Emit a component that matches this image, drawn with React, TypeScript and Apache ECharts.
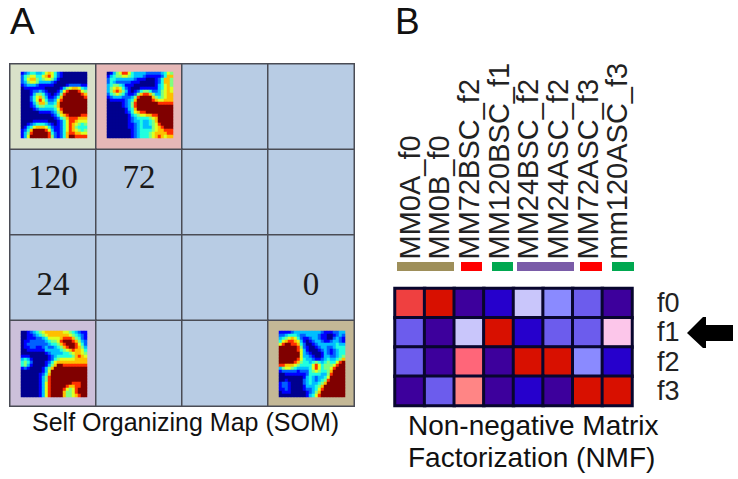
import React, { useEffect, useRef } from "react";
import * as echarts from "echarts";

const SANS = '"Liberation Sans", Arial, sans-serif';
const SERIF = '"Liberation Serif", "Times New Roman", serif';

// SOM lattice
const somAxis = ["0", "1", "2", "3"];
const somPalette = ["#b8cce4", "#d9e1c9", "#e6b8b7", "#ccc0da", "#c4b896"];
const somTints = [
  [1, 2, 0, 0],
  [0, 0, 0, 0],
  [0, 0, 0, 0],
  [3, 0, 0, 4],
];
const somLabels: [number, number, string][] = [
  [0, 1, "120"],
  [1, 1, "72"],
  [0, 2, "24"],
  [3, 2, "0"],
];

// SOM component planes: one digit per cell, 0 (dark blue) .. 9 (dark red)
const jet = ["#00008f", "#0000ff", "#0060ff", "#00bfff", "#20ffdf", "#7fff7f", "#dfff20", "#ffbf00", "#ff3000", "#800000"];

const plane120 = [
  "1234433467642100000000",
  "2456644678642100000000",
  "2467754566531000000000",
  "2356653333210000000000",
  "1233321111100001222211",
  "0111111100000135677643",
  "0001223210001368999865",
  "0001355421012589999987",
  "0002467531124799999998",
  "0002468642236899999999",
  "0001357753347999999999",
  "0001245544457999999999",
  "0000123333346899999999",
  "0000001111235799999999",
  "0000000000124678999988",
  "0000000000012457888777",
  "0000111110001246887666",
  "0012344432101246876545",
  "0134677764211246875444",
  "1247999986311246876545",
  "1358999998421247887766",
  "1369999998521247998888",
];
const plane72 = [
  "0135688643333222223465",
  "1345566543332111112477",
  "2443333332111000124775",
  "2432222211100000124775",
  "3455431110000000134675",
  "3567642100011111134676",
  "3578753101245542235676",
  "2456542112578875335677",
  "1233322235899997545677",
  "0111112347999998766777",
  "0000012358999999988888",
  "0000012358999999999999",
  "0000001347999999999999",
  "0000001246788999999999",
  "0000000134566778899999",
  "0000000123444456799999",
  "0000000123343345799999",
  "0000000112343345689999",
  "0000000112343335678999",
  "0000000012344445677888",
  "0000000012344456777788",
  "0000000012344456787677",
];
const plane24 = [
  "0012345677777766543211",
  "0011234567777777654321",
  "0011122346666788875421",
  "0112222234556899987532",
  "0122222223445789998642",
  "0112211232234578998753",
  "0011111133333456787764",
  "0000000012333344567765",
  "1110000001234444457876",
  "3431000001245666667777",
  "4542000012467777777777",
  "4531000013579988888888",
  "1210000135799999999999",
  "0000000136999999999999",
  "0000001247999999999999",
  "0000001358999999999999",
  "0000001358999999999999",
  "0000001368999999988899",
  "0000001368999998778899",
  "0000001368999986568999",
  "0000001368999975568999",
  "0000001368999975567899",
];
const plane0 = [
  "1111233333333321112233",
  "2234443223333211001232",
  "3456764211233211002321",
  "4678876310123321123321",
  "6899887420012333333433",
  "9999998521001233223444",
  "9999998631000123212344",
  "9999999632100013212344",
  "9999999633210013322345",
  "9999998643321123433457",
  "9999987544345434544689",
  "8877765444468645556899",
  "3566543333468645568999",
  "1222221222456544579999",
  "0011111112444433589999",
  "0000000013432334699999",
  "0010000023432345899999",
  "1221000023433457999999",
  "1221000013334579999999",
  "1121000012234689999999",
  "0111000001235799999999",
  "0000000001346899999999",
];

// NMF panel
const sampleNames = ["MM0A_f0", "MM0B_f0", "MM72BSC_f2", "MM120BSC_f1", "MM24BSC_f2", "MM24ASC_f2", "MM72ASC_f3", "mm120ASC_f3"];
const factorNames = ["f0", "f1", "f2", "f3"];
const nmfPalette = ["#3d009c", "#2600cc", "#6c5ced", "#8a8aff", "#c9c6fb", "#fcc6ea", "#ff8585", "#ff6679", "#ef4040", "#d81000"];
const nmfF0 = [8, 9, 0, 1, 4, 3, 2, 0];
const nmfF1 = [2, 0, 4, 9, 1, 2, 2, 5];
const nmfF2 = [2, 0, 7, 0, 9, 9, 3, 1];
const nmfF3 = [0, 2, 6, 0, 1, 0, 9, 9];
const nmfRows = [nmfF0, nmfF1, nmfF2, nmfF3];

const conditionBars: [number, number, string][] = [
  [397, 57, "#9e8f5a"],
  [461, 21, "#ff0000"],
  [492, 21, "#00a850"],
  [517, 57, "#7a5ca8"],
  [580, 22, "#ff0000"],
  [612, 22, "#00a850"],
];

const planeIdx = Array.from({ length: 22 }, (_, i) => String(i));

function planeParts(plane: string[], gridIndex: number, left: number, top: number) {
  const data: number[][] = [];
  plane.forEach((row, y) => {
    row.split("").forEach((d, x) => {
      data.push([x, y, Number(d)]);
    });
  });
  return {
    grid: { left, top, width: 66, height: 66 },
    xAxis: { type: "category", gridIndex, data: planeIdx, show: false },
    yAxis: { type: "category", gridIndex, data: planeIdx, show: false, inverse: true },
    series: { type: "heatmap", xAxisIndex: gridIndex, yAxisIndex: gridIndex, data, z: 4, silent: true, itemStyle: { borderWidth: 0 } },
  };
}

function buildOption() {
  const somData: any[] = [];
  somTints.forEach((row, y) => {
    row.forEach((tint, x) => {
      const lab = somLabels.find((t) => t[0] === x && t[1] === y);
      somData.push({
        value: [x, y, tint],
        label: lab
          ? { show: true, formatter: lab[2], fontFamily: SERIF, fontSize: 33, color: "#1a1a1a", offset: [0, y === 1 ? -15 : 6] }
          : { show: false },
      });
    });
  });

  const planes = [
    planeParts(plane120, 1, 21, 72),
    planeParts(plane72, 2, 107, 72),
    planeParts(plane24, 3, 21, 331),
    planeParts(plane0, 4, 279, 331),
  ];

  const nmfData: number[][] = [];
  nmfRows.forEach((row, y) => {
    row.forEach((v, x) => {
      nmfData.push([x, y, v]);
    });
  });

  const text = (x: number, y: number, t: string, fontSize: number) => ({
    type: "text",
    x,
    y,
    style: { text: t, fontFamily: SANS, fontSize, fill: "#111", verticalAlign: "middle" },
  });

  return {
    animation: false,
    backgroundColor: "#ffffff",
    visualMap: [
      { show: false, type: "continuous", seriesIndex: 0, min: 0, max: 4, dimension: 2, inRange: { color: somPalette } },
      { show: false, type: "continuous", seriesIndex: [1, 2, 3, 4], min: 0, max: 9, dimension: 2, inRange: { color: jet } },
      { show: false, type: "continuous", seriesIndex: 5, min: 0, max: 9, dimension: 2, inRange: { color: nmfPalette } },
    ],
    grid: [
      { left: 10, top: 64, width: 344, height: 342 },
      ...planes.map((p) => p.grid),
      { left: 395, top: 288.5, width: 237, height: 117 },
    ],
    xAxis: [
      { type: "category", gridIndex: 0, data: somAxis, show: false },
      ...planes.map((p) => p.xAxis),
      {
        type: "category",
        gridIndex: 5,
        position: "top",
        data: sampleNames,
        axisLine: { show: false },
        axisTick: { show: false },
        splitLine: { show: false },
        axisLabel: { interval: 0, rotate: -90, margin: 29, fontFamily: SANS, fontSize: 29, color: "#222" },
      },
    ],
    yAxis: [
      { type: "category", gridIndex: 0, data: somAxis, show: false, inverse: true },
      ...planes.map((p) => p.yAxis),
      {
        type: "category",
        gridIndex: 5,
        position: "right",
        inverse: true,
        data: factorNames,
        axisLine: { show: false },
        axisTick: { show: false },
        splitLine: { show: false },
        axisLabel: { interval: 0, margin: 25, fontFamily: SANS, fontSize: 27, color: "#222" },
      },
    ],
    series: [
      {
        type: "heatmap",
        xAxisIndex: 0,
        yAxisIndex: 0,
        data: somData,
        z: 2,
        silent: true,
        itemStyle: { borderColor: "#4a4c55", borderWidth: 1.5 },
      },
      ...planes.map((p) => p.series),
      {
        type: "heatmap",
        xAxisIndex: 5,
        yAxisIndex: 5,
        data: nmfData,
        z: 2,
        silent: true,
        itemStyle: { borderColor: "#08062e", borderWidth: 3 },
      },
    ],
    graphic: [
      text(10, 21, "A", 37),
      text(395, 21, "B", 37),
      text(32, 422, "Self Organizing Map (SOM)", 25),
      text(408, 425, "Non-negative Matrix", 28),
      text(408, 457, "Factorization (NMF)", 28),
      ...conditionBars.map(([x, w, color]) => ({
        type: "rect",
        shape: { x, y: 262, width: w, height: 9 },
        style: { fill: color },
      })),
      {
        type: "polygon",
        shape: {
          points: [
            [687, 333],
            [703, 317],
            [706, 317],
            [706, 325],
            [733, 325],
            [733, 341],
            [706, 341],
            [706, 348],
            [703, 348],
          ],
        },
        style: { fill: "#000" },
      },
    ],
  };
}

export default function App() {
  const ref = useRef<HTMLDivElement>(null);
  useEffect(() => {
    const chart = echarts.init(ref.current!, undefined, { renderer: "svg" });
    chart.setOption(buildOption() as any);
    return () => chart.dispose();
  }, []);
  return <div ref={ref} style={{ position: "absolute", left: 0, top: 0, width: 738, height: 479 }} />;
}
